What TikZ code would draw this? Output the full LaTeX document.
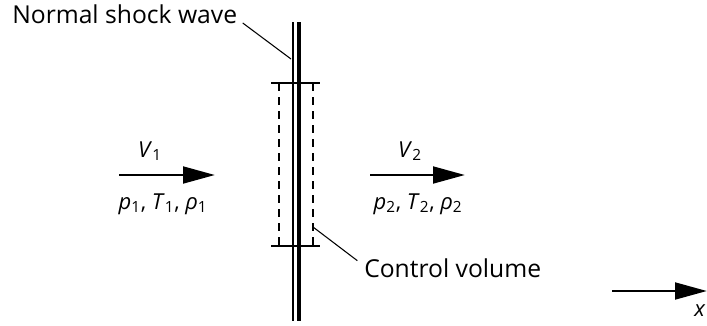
\documentclass[tikz,border=0pt]{standalone}
\usepackage{fontspec}
\setmainfont{Open Sans}
\usetikzlibrary{arrows.meta,positioning}

\begin{document}
\begin{tikzpicture}[x=0.75pt, y=-0.75pt, font=\fontsize{18.5}{22}\selectfont,
    flow/.style={line width=2.2pt, -{Triangle[length=24pt,width=12.5pt]}},
    cvline/.style={line width=0.8pt, dash pattern=on 6pt off 4.5pt},
    leader/.style={line width=0.8pt},
    lbl/.style={inner sep=0pt},
    sym/.style={inner sep=0pt, font=\fontsize{16.5}{20}\selectfont}]
  \useasboundingbox (0,0) rectangle (707,325);

  % shock wave (thin and thick line)
  \coordinate (ThinTop) at (293,22);
  \coordinate (ThinBot) at (293,321);
  \coordinate (ThickTop) at (299,22);
  \coordinate (ThickBot) at (299,321);
  \draw[line width=0.8pt] (ThinTop) -- (ThinBot);
  \draw[line width=2.4pt] (ThickTop) -- (ThickBot);

  % control volume
  \coordinate (CVtl) at (271,83);
  \coordinate (CVtr) at (320,83);
  \coordinate (CVbl) at (271,246);
  \coordinate (CVbr) at (320,246);
  \draw[leader] (CVtl) -- (CVtr);
  \draw[leader] (CVbl) -- (CVbr);
  \draw[cvline] (279,83) -- (279,246);
  \draw[cvline] (313,83) -- (313,246);

  % labels with leaders
  \node[lbl, anchor=base west] (NSW) at (12,23) {Normal shock wave};
  \coordinate (NSWtip) at (291,59);
  \draw[leader] ([xshift=4pt]NSW.base east) -- (NSWtip);

  \node[lbl, anchor=base west] (CV) at (364,277) {Control volume};
  \coordinate (CVtip) at (313,227);
  \draw[leader] (CVtip) -- ([xshift=-5pt,yshift=-2pt]CV.north west);

  % upstream state
  \coordinate (U1) at (119,175);
  \coordinate (U2) at (215,175);
  \draw[flow] (U1) -- (U2);
  \node[sym] (V1) at (150,151) {\textit{V}\textsubscript{1}};
  \node[sym] (S1) at (163,204) {\textit{p}\textsubscript{1}, \textit{T}\textsubscript{1}, \textit{ρ}\textsubscript{1}};

  % downstream state
  \coordinate (D1) at (370,175);
  \coordinate (D2) at (465,175);
  \draw[flow] (D1) -- (D2);
  \node[sym] (V2) at (410,151) {\textit{V}\textsubscript{2}};
  \node[sym] (S2) at (418,204) {\textit{p}\textsubscript{2}, \textit{T}\textsubscript{2}, \textit{ρ}\textsubscript{2}};

  % x axis
  \coordinate (X1) at (612,291);
  \coordinate (X2) at (707,291);
  \draw[flow] (X1) -- (X2);
  \node[sym] (Xlbl) at (700,311) {\textit{x}};
\end{tikzpicture}
\end{document}
